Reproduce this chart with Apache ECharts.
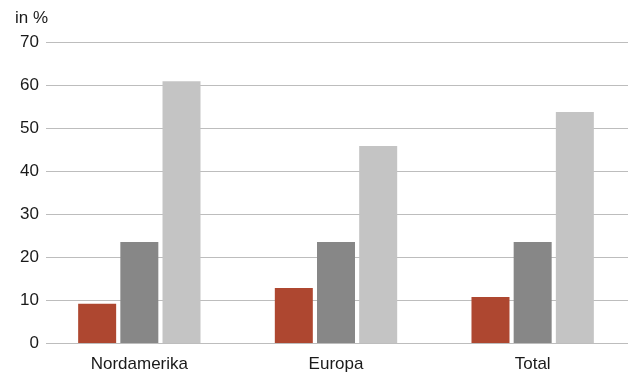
<!DOCTYPE html>
<html><head><meta charset="utf-8">
<script src="https://cdn.jsdelivr.net/npm/echarts@6/dist/echarts.min.js"></script>
<style>html,body{margin:0;padding:0;background:#fff}#c{width:635px;height:376px}</style>
</head><body><div id="c"></div>
<script>
const categories = ['Nordamerika', 'Europa', 'Total'];
const seriesA = [9.1, 12.8, 10.7];
const seriesB = [23.5, 23.5, 23.5];
const seriesC = [60.9, 45.8, 53.7];
const yTicks = [0, 10, 20, 30, 40, 50, 60, 70];
const unitLabel = 'in %';

const font = 'Liberation Sans, Arial, Helvetica, sans-serif';
const chart = echarts.init(document.getElementById('c'), null, {renderer: 'canvas'});
const barCommon = {type: 'bar', xAxisIndex: 1, yAxisIndex: 1, barWidth: 38, barGap: '11%'};
chart.setOption({
  animation: false,
  title: {text: unitLabel, left: 10, top: 5, textStyle: {fontFamily: font, fontSize: 17, fontWeight: 'normal', color: '#1a1a1a'}},
  grid: [
    {left: 46, right: 7, top: 42, bottom: 33},
    {left: 41, right: 4, top: 42, bottom: 33}
  ],
  xAxis: [
    {type: 'category', gridIndex: 0, data: categories, show: false},
    {type: 'category', gridIndex: 1, data: categories,
     axisLine: {show: false}, axisTick: {show: false},
     axisLabel: {fontFamily: font, fontSize: 17, color: '#1a1a1a', margin: 13}}
  ],
  yAxis: [
    {type: 'value', gridIndex: 0, min: yTicks[0], max: yTicks[yTicks.length - 1], interval: 10,
     axisLine: {show: false}, axisTick: {show: false},
     axisLabel: {fontFamily: font, fontSize: 17, color: '#1a1a1a', margin: 7},
     splitLine: {lineStyle: {color: '#bdbdbd', width: 1}}},
    {type: 'value', gridIndex: 1, min: yTicks[0], max: yTicks[yTicks.length - 1], interval: 10, show: false, splitLine: {show: false}}
  ],
  series: [
    Object.assign({name: 'A', data: seriesA, itemStyle: {color: '#ae4730'}}, barCommon),
    Object.assign({name: 'B', data: seriesB, itemStyle: {color: '#878787'}}, barCommon),
    Object.assign({name: 'C', data: seriesC, itemStyle: {color: '#c4c4c4'}}, barCommon)
  ]
});
</script></body></html>
